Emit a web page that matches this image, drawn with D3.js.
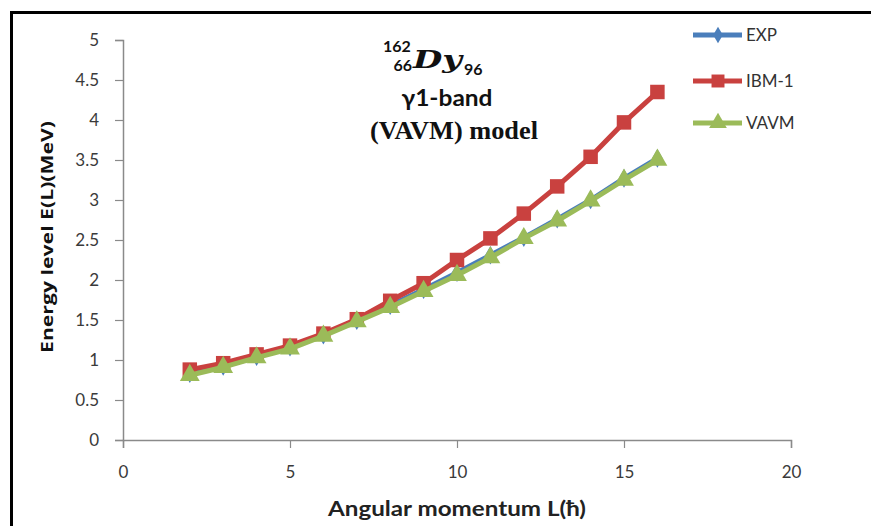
<!DOCTYPE html>
<html>
<head>
<meta charset="utf-8">
<script src="https://cdn.jsdelivr.net/npm/d3@7"></script>
<style>
  body { margin: 0; background: #fff; }
  svg { display: block; }
</style>
</head>
<body>
<script>
// angular momentum L and energies E(L) in MeV
const L = [2, 3, 4, 5, 6, 7, 8, 9, 10, 11, 12, 13, 14, 15, 16];
const expE = [0.83, 0.92, 1.04, 1.16, 1.31, 1.49, 1.68, 1.88, 2.09, 2.31, 2.53, 2.76, 3.00, 3.27, 3.52];
const ibmE = [0.88, 0.96, 1.07, 1.18, 1.33, 1.51, 1.74, 1.96, 2.25, 2.52, 2.83, 3.17, 3.54, 3.97, 4.35];
const vavmE = [0.81, 0.91, 1.03, 1.14, 1.30, 1.48, 1.66, 1.86, 2.06, 2.28, 2.52, 2.74, 2.99, 3.25, 3.50];
const xTicks = [0, 5, 10, 15, 20];
const yTicks = [0, 0.5, 1, 1.5, 2, 2.5, 3, 3.5, 4, 4.5, 5];

const width = 871, height = 526;
const svg = d3.select("body").append("svg")
  .attr("width", width)
  .attr("height", height);

// black frame (right and bottom edges run off the picture)
svg.append("rect")
  .attr("x", 11.5).attr("y", 12.5)
  .attr("width", 900).attr("height", 600)
  .attr("fill", "none")
  .attr("stroke", "#000")
  .attr("stroke-width", 3);

const x = d3.scaleLinear().domain([0, 20]).range([123, 791]);
const y = d3.scaleLinear().domain([0, 5]).range([440, 40]);

// axes
const xAxis = svg.append("g")
  .attr("transform", "translate(0,440)")
  .call(d3.axisBottom(x).tickValues(xTicks).tickSize(8).tickPadding(18).tickFormat(d3.format("d")));
const yAxis = svg.append("g")
  .attr("transform", "translate(123,0)")
  .call(d3.axisLeft(y).tickValues(yTicks).tickSize(8).tickPadding(16).tickFormat(d => d));
[xAxis, yAxis].forEach(g => {
  g.select(".domain").attr("stroke", "#8a8a8a").attr("stroke-width", 1.5);
  g.selectAll(".tick line").attr("stroke", "#8a8a8a").attr("stroke-width", 1.2);
  g.selectAll(".tick text")
    .attr("fill", "#3a3a3a")
    .style("font-family", "Lato, 'Open Sans', sans-serif")
    .style("font-size", "17px");
});

// axis titles
svg.append("text")
  .attr("x", 457).attr("y", 516)
  .attr("text-anchor", "middle")
  .attr("fill", "#222")
  .attr("textLength", 258)
  .attr("lengthAdjust", "spacingAndGlyphs")
  .style("font-family", "Lato, sans-serif")
  .style("font-size", "21px")
  .style("font-weight", "bold")
  .text("Angular momentum L(ħ)");

svg.append("text")
  .attr("transform", "translate(53,237) rotate(-90)")
  .attr("text-anchor", "middle")
  .attr("fill", "#111")
  .attr("textLength", 232)
  .attr("lengthAdjust", "spacingAndGlyphs")
  .style("font-family", "'Open Sans', sans-serif")
  .style("font-size", "16px")
  .style("font-weight", "bold")
  .text("Energy level E(L)(MeV)");

// series
const series = [
  { name: "EXP", vals: expE, color: "#4a7ebb", shape: d3.symbolDiamond, size: 100 },
  { name: "IBM-1", vals: ibmE, color: "#c9413f", shape: d3.symbolSquare, size: 210 },
  { name: "VAVM", vals: vavmE, color: "#9bbb59", shape: d3.symbolTriangle, size: 170 }
];

const line = d3.line()
  .x((d, i) => x(L[i]))
  .y(d => y(d));

series.forEach(s => {
  svg.append("path")
    .datum(s.vals)
    .attr("fill", "none")
    .attr("stroke", s.color)
    .attr("stroke-width", 5)
    .attr("stroke-linejoin", "round")
    .attr("d", line);
  svg.append("g").selectAll("path")
    .data(s.vals)
    .join("path")
    .attr("transform", (d, i) => `translate(${x(L[i])},${y(d)})`)
    .attr("d", d3.symbol().type(s.shape).size(s.size))
    .attr("fill", s.color);
});

// legend
const legY = [35, 81, 123];
series.forEach((s, i) => {
  const g = svg.append("g").attr("transform", `translate(693,${legY[i]})`);
  g.append("line")
    .attr("x1", 0).attr("x2", 49)
    .attr("stroke", s.color).attr("stroke-width", 5);
  g.append("path")
    .attr("transform", "translate(25,0)")
    .attr("d", d3.symbol().type(s.shape).size(s.size * 0.8))
    .attr("fill", s.color);
  g.append("text")
    .attr("x", 53).attr("y", 0)
    .attr("dy", "0.35em")
    .attr("fill", "#333")
    .style("font-family", "Lato, sans-serif")
    .style("font-size", "17px")
    .text(s.name);
});

// in-plot title
const t = svg.append("g").attr("fill", "#111");
t.append("text")
  .attr("x", 383).attr("y", 52)
  .style("font-family", "Lato, sans-serif")
  .style("font-size", "16px").style("font-weight", "bold")
  .text("162");
t.append("text")
  .attr("x", 412).attr("y", 71)
  .attr("text-anchor", "end")
  .style("font-family", "Lato, sans-serif")
  .style("font-size", "16px").style("font-weight", "bold")
  .text("66");
t.append("text")
  .attr("x", 413).attr("y", 68)
  .attr("textLength", 49)
  .attr("lengthAdjust", "spacingAndGlyphs")
  .style("font-family", "'DejaVu Serif', serif")
  .style("font-size", "25px").style("font-style", "italic").style("font-weight", "bold")
  .text("Dy");
t.append("text")
  .attr("x", 464).attr("y", 75)
  .style("font-family", "Lato, sans-serif")
  .style("font-size", "16px").style("font-weight", "bold")
  .text("96");
t.append("text")
  .attr("x", 447).attr("y", 106)
  .attr("text-anchor", "middle")
  .attr("textLength", 91)
  .attr("lengthAdjust", "spacingAndGlyphs")
  .style("font-family", "Lato, sans-serif")
  .style("font-size", "22px").style("font-weight", "bold")
  .text("γ1-band");
t.append("text")
  .attr("x", 454).attr("y", 139)
  .attr("text-anchor", "middle")
  .attr("textLength", 168)
  .attr("lengthAdjust", "spacingAndGlyphs")
  .style("font-family", "'Liberation Serif', serif")
  .style("font-size", "25px").style("font-weight", "bold")
  .text("(VAVM) model");
</script>
</body>
</html>
